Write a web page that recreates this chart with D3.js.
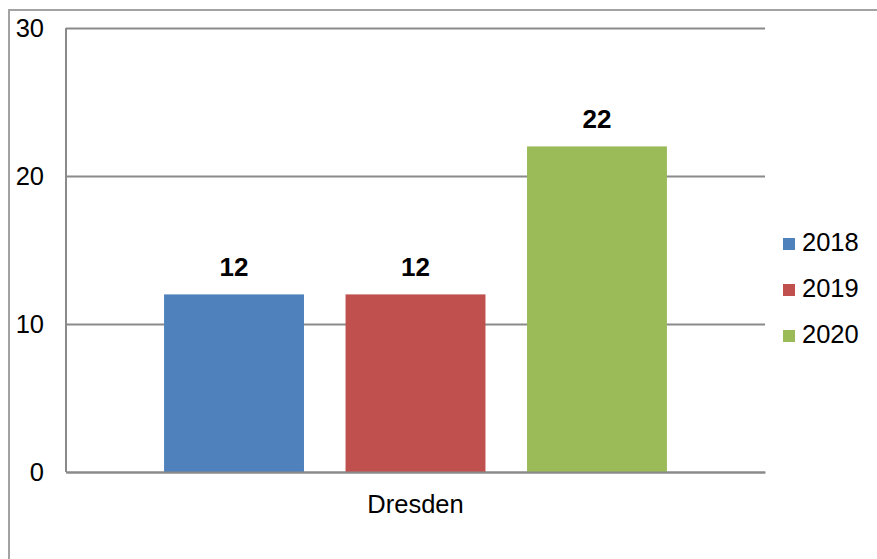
<!DOCTYPE html>
<html>
<head>
<meta charset="utf-8">
<script src="https://cdn.jsdelivr.net/npm/d3@7"></script>
<style>
  html, body { margin: 0; padding: 0; background: #fff; }
  svg { display: block; font-family: "Liberation Sans", Arial, sans-serif; }
</style>
</head>
<body>
<svg id="chart" width="877" height="559"></svg>
<script>
const categories = ["Dresden"];
const seriesNames = ["2018", "2019", "2020"];
const values2018 = [12];
const values2019 = [12];
const values2020 = [22];
const yTicks = [0, 10, 20, 30];
const colors = ["#4f81bd", "#c0504d", "#9bbb59"];

const seriesValues = [values2018, values2019, values2020];
const data = categories.map((c, i) => ({
  category: c,
  values: seriesNames.map((s, j) => ({ series: s, value: seriesValues[j][i], color: colors[j] }))
}));

const svg = d3.select("#chart");
const W = 877, H = 559;
const plot = { left: 66, right: 765, top: 28, bottom: 472 };
const FS = "25.5px";

// outer frame
svg.append("rect")
  .attr("x", 9).attr("y", 10)
  .attr("width", W + 10).attr("height", H + 10)
  .attr("fill", "none").attr("stroke", "#a3a3a3").attr("stroke-width", 2);

const y = d3.scaleLinear().domain([0, 30]).range([plot.bottom, plot.top]);
const x0 = d3.scaleBand().domain(categories).range([plot.left, plot.right])
  .paddingInner(0).paddingOuter(0.195);
const x1 = d3.scaleBand().domain(seriesNames).range([0, x0.bandwidth()])
  .paddingInner(0.229).paddingOuter(0);

// y axis with gridlines
const yAxis = svg.append("g")
  .attr("transform", `translate(${plot.left},0)`)
  .call(d3.axisLeft(y).tickValues(yTicks).tickSize(-(plot.right - plot.left)).tickPadding(22).tickFormat(d3.format("d")));
yAxis.select(".domain").remove();
yAxis.selectAll(".tick line").attr("stroke", "#8a8a8a").attr("stroke-width", 2);
yAxis.selectAll(".tick text").attr("fill", "#000").style("font-size", FS)
  .style("font-family", '"Liberation Sans", Arial, sans-serif');

// vertical axis line
svg.append("line")
  .attr("x1", plot.left).attr("x2", plot.left)
  .attr("y1", y(30)).attr("y2", y(0))
  .attr("stroke", "#8a8a8a").attr("stroke-width", 2);

// bars
const groups = svg.append("g").selectAll("g").data(data).join("g")
  .attr("transform", d => `translate(${x0(d.category)},0)`);
groups.selectAll("rect").data(d => d.values).join("rect")
  .attr("x", d => x1(d.series))
  .attr("y", d => y(d.value))
  .attr("width", x1.bandwidth())
  .attr("height", d => y(0) - y(d.value))
  .attr("fill", d => d.color);

// value labels
groups.selectAll("text.val").data(d => d.values).join("text")
  .attr("class", "val")
  .attr("x", d => x1(d.series) + x1.bandwidth() / 2)
  .attr("y", d => y(d.value) - 18)
  .attr("text-anchor", "middle")
  .style("font-size", "26px").style("font-weight", "bold")
  .text(d => d.value);

// x axis (zero line + category label)
const xAxis = svg.append("g")
  .attr("transform", `translate(0,${plot.bottom})`)
  .call(d3.axisBottom(x0).tickSize(0).tickPadding(23));
xAxis.select(".domain").attr("stroke", "#8a8a8a").attr("stroke-width", 2);
xAxis.selectAll(".tick text").attr("fill", "#000").style("font-size", FS)
  .style("font-family", '"Liberation Sans", Arial, sans-serif');

// legend
const legend = svg.append("g");
const items = legend.selectAll("g").data(seriesNames).join("g")
  .attr("transform", (d, i) => `translate(783,${238 + i * 46})`);
items.append("rect").attr("width", 12).attr("height", 12)
  .attr("fill", (d, i) => colors[i]);
items.append("text").attr("x", 19).attr("y", 13)
  .style("font-size", FS).attr("fill", "#000").text(d => d);
</script>
</body>
</html>
